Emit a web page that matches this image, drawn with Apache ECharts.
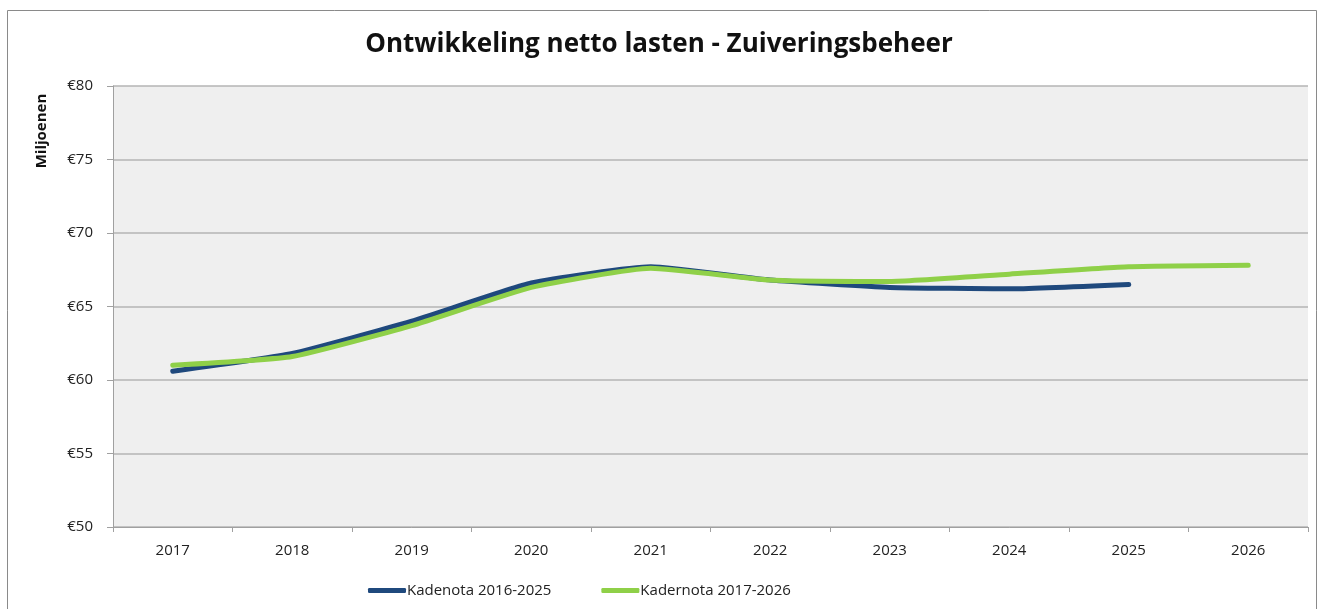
<!DOCTYPE html>
<html>
<head>
<meta charset="utf-8">
<script src="https://cdn.jsdelivr.net/npm/echarts@6/dist/echarts.min.js"></script>
<style>
    html, body { margin: 0; padding: 0; background: #fff; }
    #chart { width: 1318px; height: 609px; }
</style>
</head>
<body>
<div id="chart"></div>
<script>
const years = ['2017', '2018', '2019', '2020', '2021', '2022', '2023', '2024', '2025', '2026']
const kadenota1625 = [60.6, 61.8, 64.0, 66.6, 67.7, 66.8, 66.3, 66.2, 66.5, null]
const kadernota1726 = [61.0, 61.6, 63.7, 66.3, 67.6, 66.8, 66.7, 67.2, 67.7, 67.8]
const yTicks = [50, 55, 60, 65, 70, 75, 80]

const font = '"Open Sans", "Liberation Sans", sans-serif'
const myChart = echarts.init(document.getElementById('chart'))

myChart.setOption({
    backgroundColor: '#ffffff',
    animation: false,
    title: {
        text: 'Ontwikkeling netto lasten - Zuiveringsbeheer',
        left: 'center',
        top: 27,
        textStyle: { fontFamily: font, fontSize: 26, fontWeight: 'bold', color: '#111' }
    },
    graphic: [
        {
            type: 'rect',
            shape: { x: 7.5, y: 10.5, width: 1309, height: 610 },
            style: { fill: 'none', stroke: '#8a8a8a', lineWidth: 1 },
            silent: true
        },
        {
            type: 'text',
            x: 42,
            y: 131,
            rotation: Math.PI / 2,
            style: {
                text: 'Miljoenen',
                fontFamily: font,
                fontSize: 15,
                fontWeight: 'bold',
                fill: '#111',
                align: 'center',
                verticalAlign: 'middle'
            }
        }
    ],
    legend: {
        bottom: 6,
        left: 363,
        itemGap: 50,
        itemWidth: 38,
        itemHeight: 5,
        icon: 'roundRect',
        textStyle: { fontFamily: font, fontSize: 15, color: '#222', padding: [0, 0, 0, -4] },
        data: ['Kadenota 2016-2025', 'Kadernota 2017-2026']
    },
    grid: { left: 113, right: 10, top: 86, bottom: 82 },
    xAxis: {
        type: 'category',
        data: years,
        boundaryGap: true,
        axisLine: { lineStyle: { color: '#a0a0a0', width: 1 } },
        axisTick: { show: true, length: 5, alignWithLabel: false, lineStyle: { color: '#a0a0a0' } },
        axisLabel: { fontFamily: font, fontSize: 15, color: '#222', margin: 16 }
    },
    yAxis: {
        type: 'value',
        min: yTicks[0],
        max: yTicks[yTicks.length - 1],
        interval: 5,
        axisLine: { show: true, lineStyle: { color: '#a0a0a0', width: 1 } },
        axisTick: { show: true, length: 6, lineStyle: { color: '#a0a0a0' } },
        axisLabel: {
            fontFamily: font,
            fontSize: 15,
            color: '#222',
            margin: 20,
            formatter: v => '€' + v
        },
        splitLine: { lineStyle: { color: '#b4b4b4', width: 1.5 } },
        splitArea: { show: true, areaStyle: { color: ['#efefef', '#efefef'] } }
    },
    series: [
        {
            name: 'Kadenota 2016-2025',
            type: 'line',
            data: kadenota1625,
            smooth: 0.15,
            showSymbol: false,
            symbol: 'none',
            color: '#1f497d',
            lineStyle: { width: 5, color: '#1f497d', cap: 'round' }
        },
        {
            name: 'Kadernota 2017-2026',
            type: 'line',
            data: kadernota1726,
            smooth: 0.15,
            showSymbol: false,
            symbol: 'none',
            color: '#8fd048',
            lineStyle: { width: 5, color: '#8fd048', cap: 'round' }
        }
    ]
})
</script>
</body>
</html>
